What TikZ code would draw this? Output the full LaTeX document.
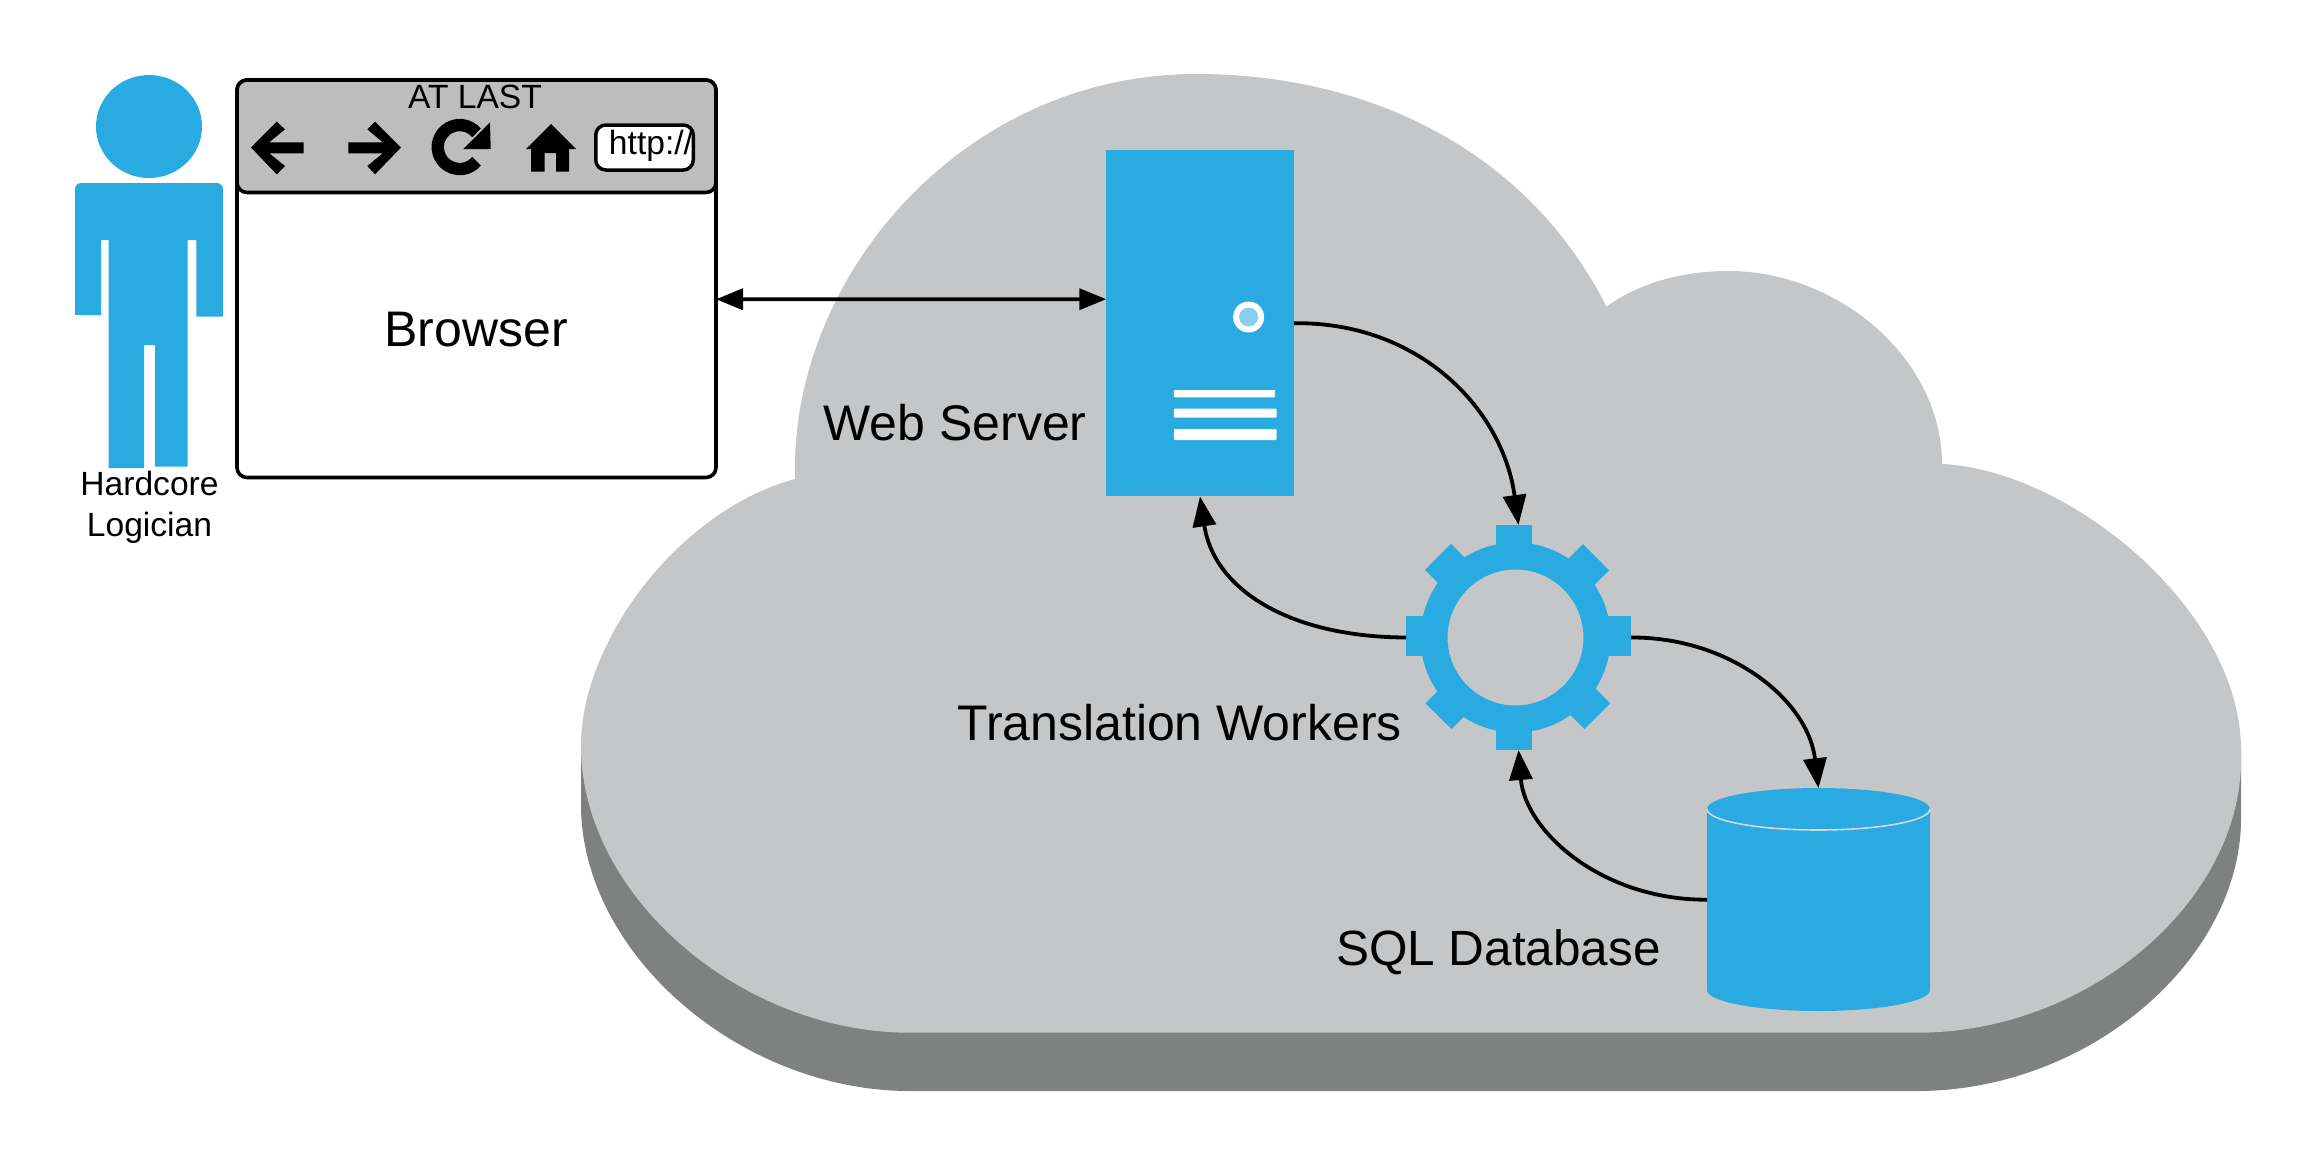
\documentclass[tikz,border=0pt]{standalone}
\usepackage{fontspec}
\setmainfont{Liberation Sans}
\usetikzlibrary{arrows.meta,calc}
\definecolor{sky}{HTML}{29ABE2}
\definecolor{cloudtop}{HTML}{C4C6C8}
\definecolor{cloudside}{HTML}{7F8180}
\definecolor{chrome}{HTML}{BDBDBD}
\definecolor{led}{HTML}{87CFEE}
\tikzset{
 conn/.style={line width=3.8pt,{Triangle[length=27pt,width=21pt]}-{Triangle[length=27pt,width=21pt]}},
 flow/.style={line width=3.8pt,-{Triangle[length=30pt,width=23pt]}},
 big/.style={font=\fontsize{50}{50}\selectfont,inner sep=0pt,anchor=base},
 small/.style={font=\fontsize{33.6}{41}\selectfont,inner sep=0pt,align=center},
 holder/.style={inner sep=0pt,outer sep=0pt},
 icon/.style={fill=black,draw=none},
}
\newcommand{\cloudpath}{
 (795,479) -- (795,460)
 .. controls (800,265) and (970,74) .. (1196,74)
 .. controls (1375,74) and (1530,155) .. (1606.4,306.7)
 .. controls (1640,282) and (1685,271) .. (1728,271)
 .. controls (1840,271) and (1942,360) .. (1942,464)
 .. controls (2070,470) and (2241,610) .. (2241,750)
 -- (2241,760)
 .. controls (2241,900) and (2090,1032.7) .. (1917,1032.7)
 -- (910,1032.7)
 .. controls (740,1032.7) and (581,895) .. (581,746)
 .. controls (581,640) and (680,510) .. (795,479) -- cycle}
\begin{document}
\begin{tikzpicture}[x=1pt,y=-1pt]
\useasboundingbox (0,0) rectangle (2316,1168);
% cloud
\fill[cloudside] (581,746) -- (581,804.5)
 .. controls (581,953.5) and (740,1091) .. (910,1091) -- (1917,1091)
 .. controls (2090,1091) and (2241,958.5) .. (2241,818.5) -- (2241,746) -- cycle;
\fill[cloudtop] \cloudpath;
% person
\fill[sky] (149,126.5) ellipse[x radius=53,y radius=51.5];
\fill[sky] (75,315) [rounded corners=6pt] -- (75,183) -- (223,183) [sharp corners] -- (223,316.7) -- (196.4,316.7) -- (196.4,240) -- (187.5,240) -- (187.5,466.7) -- (155,466.7) -- (155,345) -- (144,345) -- (144,468) -- (108.5,468) -- (108.5,240) -- (101,240) -- (101,315) -- cycle;
\node[small] (person) at (149.5,507.5) {Hardcore\\Logician};
% browser
\node[draw=black,line width=3.6pt,fill=white,rounded corners=10pt,minimum width=479pt,minimum height=397.5pt,holder] (browser) at (476.5,278.75) {};
\draw[line width=3.6pt,fill=chrome,rounded corners=10pt] (237,80) rectangle (716,192.5);
\node[small] (title) at (475,97) {AT LAST};
\node[big] (browsertext) at (476,346.7) {Browser};
% icons
\fill[icon] (251,147.5) -- (276.7,121.7) -- (285,129.3) -- (269.3,142.3) -- (303.5,142.3) -- (303.5,153.3) -- (269.3,153.3) -- (285,166) -- (276.7,174.3) -- cycle;
\fill[icon] (401,147.5) -- (375,121.7) -- (367.3,129.3) -- (382.7,142.3) -- (348.3,142.3) -- (348.3,153.3) -- (382.7,153.3) -- (367.3,166) -- (375,174.3) -- cycle;
\draw[line width=12.3pt] (476.6,132.9) arc[start angle=-40,end angle=-320,radius=22];
\fill[icon] (490,122.3) -- (490.7,149) -- (463.3,149) -- cycle;
\fill[icon] (551,124) -- (576,149) -- (569,149) -- (569,171.7) -- (556,171.7) -- (556,153) -- (544.6,153) -- (544.6,171.7) -- (531,171.7) -- (531,149) -- (526,149) -- cycle;
\node[draw=black,line width=3.5pt,fill=white,rounded corners=10pt,minimum width=97.5pt,minimum height=45pt,holder] (url) at (644.5,147.5) {};
\node[small] (urltext) at (651,146) {http://};
% server
\node[fill=sky,minimum width=187.5pt,minimum height=346.5pt,holder] (server) at (1200,323.2) {};
\fill[white] (1248.6,317) circle[radius=15.5];
\fill[led] (1248.6,317) circle[radius=9.5];
\foreach \ya/\yb/\xb in {390/397.4/1275,408.6/417.7/1276.7,429/440/1276.7}
  \fill[white,rounded corners=1pt] (1173.8,\ya) rectangle (\xb,\yb);
% gear
\node[circle,minimum size=225pt,holder] (gear) at (1518.5,637.5) {};
\fill[sky] (1496,524.7) rectangle (1532,560);
\fill[sky] (1496,750) rectangle (1532,715);
\fill[sky] (1406,616) rectangle (1440,655.7);
\fill[sky] (1631,616) rectangle (1595,655.7);
\fill[sky] (1451,543.8) -- (1425,570) -- (1446,591) -- (1472,564.8) -- cycle;
\fill[sky] (1583,544) -- (1609,570.3) -- (1588,591.3) -- (1562,565) -- cycle;
\fill[sky] (1425.5,703.4) -- (1451.6,729) -- (1472.6,708) -- (1446.5,682.4) -- cycle;
\fill[sky] (1584.4,729) -- (1610.3,703.4) -- (1589.3,682.4) -- (1563.4,708) -- cycle;
\fill[cloudtop] (1515.5,637.5) circle[radius=80];
\fill[sky,even odd rule] (1515.5,637.5) circle[radius=95] (1515.5,637.5) circle[radius=68];
% database
\node[minimum width=223pt,minimum height=223pt,holder] (db) at (1818.5,899.7) {};
\fill[sky] (1707,809) -- (1707,990) arc[start angle=180,end angle=0,x radius=111.5,y radius=21] -- (1930,809) arc[start angle=0,end angle=-180,x radius=111.5,y radius=21] -- cycle;
\draw[cloudtop!70!white,line width=1.6pt] (1707,809) arc[start angle=180,end angle=0,x radius=111.5,y radius=21];
% labels
\node[big] (weblabel) at (955,440.5) {Web Server};
\node[big] (translabel) at (1179.6,740.5) {Translation Workers};
\node[big,font=\fontsize{49.5}{50}\selectfont] (sqllabel) at (1498.4,965) {SQL Database};
% connectors
\draw[conn] ($(browser.east)+(0,20.5)$) -- ($(server.west)+(0,-24)$);
\draw[flow] (server.east) .. controls (1420,321.5) and (1503,410) .. (gear.north);
\draw[flow] (gear.west) .. controls (1290,637) and (1214,590) .. (server.south);
\draw[flow] (gear.east) .. controls (1730,637) and (1808,700) .. (db.north);
\draw[flow] (db.west) .. controls (1600,900) and (1525,830) .. (gear.south);
\end{tikzpicture}
\end{document}
